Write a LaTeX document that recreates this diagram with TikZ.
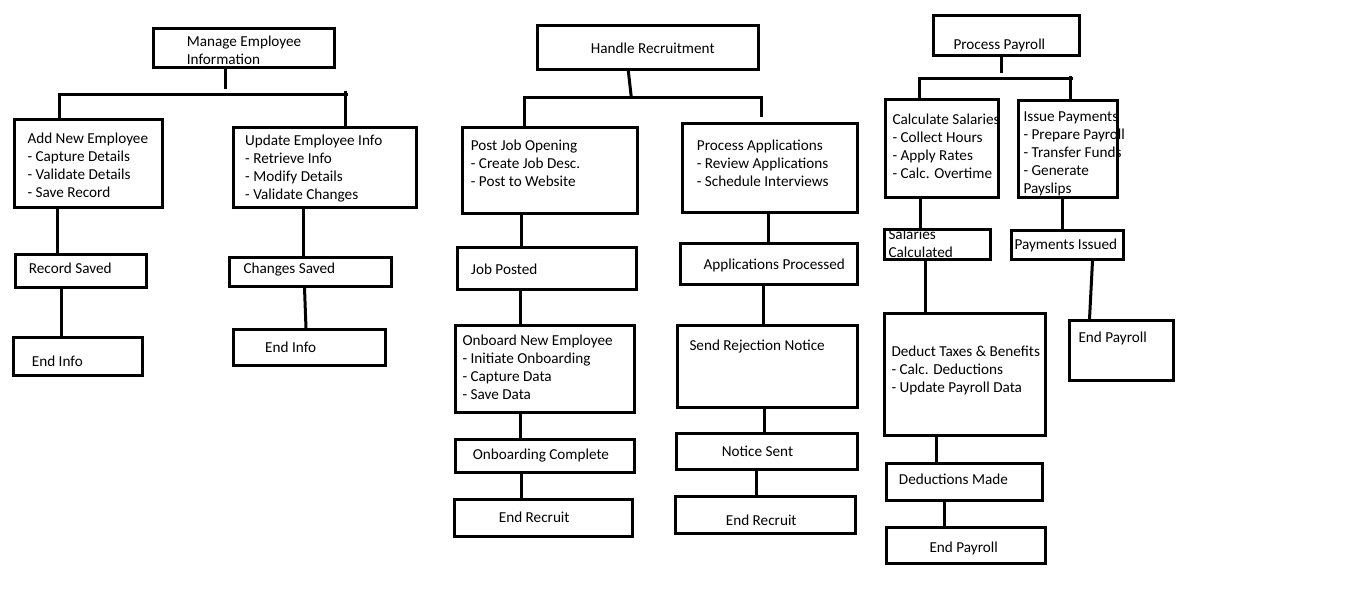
\documentclass[tikz,border=0pt]{standalone}
\usepackage{fontspec}
\setmainfont{Carlito}
\begin{document}
\begin{tikzpicture}[x=1pt,y=-1pt,
  box/.style={draw=black,line width=3pt,inner sep=0pt,fill=none},
  txt/.style={inner sep=0pt,align=left,text=black,
    font=\fontsize{15.2}{18}\selectfont},
  link/.style={draw=black,line width=3pt}]
\useasboundingbox (0,0) rectangle (1360,601);

% text first, so that box borders lie over any overflowing letters
\newcommand\ptext[4]{\node[txt,anchor=north west] (#1) at (#2,{#3-12}) {\rule{0pt}{12pt}#4};}
% box given by its outer corners
\newcommand\pbox[5]{\node[box,anchor=north west,
  minimum width={(#4)-(#2)-3},minimum height={(#5)-(#3)-3}] (#1) at (#2,#3) {};}

% ---------- texts ----------
\ptext{t-manage}{186.7}{46.5}{Manage Employee\\Information}
\ptext{t-addnew}{27.3}{143.3}{Add New Employee\\- Capture Details\\- Validate Details\\- Save Record}
\ptext{t-update}{245}{145.5}{Update Employee Info\\- Retrieve Info\\- Modify Details\\- Validate Changes}
\ptext{t-recsaved}{28.7}{273.3}{Record Saved}
\ptext{t-endinfoA}{31.7}{366.5}{End Info}
\ptext{t-chsaved}{243.3}{273.3}{Changes Saved}
\ptext{t-endinfoB}{265}{352.5}{End Info}

\ptext{t-handle}{590.7}{53.3}{Handle Recruitment}
\ptext{t-postjob}{470.7}{150.5}{Post Job Opening\\- Create Job Desc.\\- Post to Website}
\ptext{t-procapp}{696.7}{150.5}{Process Applications\\- Review Applications\\- Schedule Interviews}
\ptext{t-jobposted}{471}{274.7}{Job Posted}
\ptext{t-onboard}{462.3}{345.5}{Onboard New Employee\\- Initiate Onboarding\\- Capture Data\\- Save Data}
\ptext{t-onbdone}{472.7}{459}{Onboarding Complete}
\ptext{t-endrecA}{498.7}{522.7}{End Recruit}
\ptext{t-appsproc}{703.3}{269}{Applications Processed}
\ptext{t-sendrej}{689.3}{350}{Send Rejection Notice}
\ptext{t-noticesent}{721.7}{456.7}{Notice Sent}
\ptext{t-endrecB}{725.7}{525}{End Recruit}

\ptext{t-payroll}{953.3}{49}{Process Payroll}
\ptext{t-calcsal}{892.3}{124}{Calculate Salaries\\- Collect Hours\\- Apply Rates\\- Calc. Overtime}
\ptext{t-issuepay}{1023.3}{121.7}{Issue Payments\\- Prepare Payroll\\- Transfer Funds\\- Generate\\Payslips}
\ptext{t-salcalc}{888.3}{239.3}{Salaries\\Calculated}
\ptext{t-payissued}{1014.3}{249}{Payments Issued}
\ptext{t-deduct}{891.3}{356.7}{Deduct Taxes \& Benefits\\- Calc. Deductions\\- Update Payroll Data}
\ptext{t-dedmade}{898.7}{484.7}{Deductions Made}
\ptext{t-endpayA}{929.3}{552.7}{End Payroll}
\ptext{t-endpayB}{1078.3}{342.7}{End Payroll}

% ---------- boxes ----------
\pbox{manage}{151.7}{26.7}{336}{69.3}
\pbox{addnew}{13.3}{118.3}{164.3}{209.3}
\pbox{update}{231.7}{125.7}{418.3}{209.3}
\pbox{recsaved}{14.3}{253.3}{148.3}{288.7}
\pbox{endinfoA}{12.3}{336}{143.7}{377.3}
\pbox{chsaved}{228.3}{255.7}{392.7}{287.7}
\pbox{endinfoB}{232.3}{328.3}{386.7}{367.3}

\pbox{handle}{535.7}{24.3}{760}{70.7}
\pbox{postjob}{460.7}{125.7}{639}{215}
\pbox{procapp}{681}{122.3}{859.3}{214}
\pbox{jobposted}{456}{246}{637.7}{290.7}
\pbox{onboard}{454.3}{323.7}{635.7}{414.3}
\pbox{onbdone}{454.3}{437.7}{635.7}{474.3}
\pbox{endrecA}{453.3}{498.3}{633.7}{538.3}
\pbox{appsproc}{679.3}{241.7}{858.7}{285.7}
\pbox{sendrej}{676}{324.3}{859.3}{408.7}
\pbox{noticesent}{675}{431.7}{858.7}{470.7}
\pbox{endrecB}{674.3}{495}{856.7}{535.3}

\pbox{payroll}{931.7}{14.3}{1080.7}{57.3}
\pbox{calcsal}{884.3}{97.7}{1000}{198.7}
\pbox{issuepay}{1017}{99}{1119}{199.3}
\pbox{salcalc}{882.7}{228.3}{992.3}{261}
\pbox{payissued}{1010}{229.3}{1125}{261}
\pbox{deduct}{883.3}{311.7}{1046.7}{437.3}
\pbox{dedmade}{885}{462.3}{1044.3}{502}
\pbox{endpayA}{885}{525.7}{1046.7}{565}
\pbox{endpayB}{1068.3}{319.3}{1175}{381.7}

% ---------- employee information tree ----------
\coordinate (mA) at (225.5,89.5);
\draw[link] (manage.south -| 225.5,0) -- (mA);
\draw[link] (addnew.north -| 59.7,0) -- (59.7,94.3) -- (204,94.3);
\draw[link] (204,95) -- (348.3,95);
\draw[link] (345.3,90.7) -- (update.north -| 345.3,0);
\draw[link] (addnew.south -| 57,0) -- (recsaved.north -| 57,0);
\draw[link] (recsaved.south -| 61.5,0) -- (endinfoA.north -| 61.5,0);
\draw[link] (update.south -| 303.5,0) -- (chsaved.north -| 303.5,0);
\draw[link] (chsaved.south -| 304.5,0) -- (endinfoB.north -| 306,0);

% ---------- recruitment tree ----------
\coordinate (hJ) at (631.3,97.5);
\coordinate (hR) at (761.3,117);
\draw[link] (handle.south -| 628.3,0) -- (hJ);
\draw[link] (postjob.north -| 524.3,0) -- (524.3,98) -- (642.3,98);
\draw[link] (642.3,97.3) -- (762.7,97.3);
\draw[link] (761.3,97.3) -- (hR);
\draw[link] (postjob.south -| 521.7,0) -- (jobposted.north -| 521.7,0);
\draw[link] (jobposted.south -| 520,0) -- (onboard.north -| 520,0);
\draw[link] (onboard.south -| 520.5,0) -- (onbdone.north -| 520.5,0);
\draw[link] (onbdone.south -| 521.5,0) -- (endrecA.north -| 521.5,0);
\draw[link] (procapp.south -| 768,0) -- (appsproc.north -| 768,0);
\draw[link] (appsproc.south -| 763,0) -- (sendrej.north -| 763,0);
\draw[link] (sendrej.south -| 764.3,0) -- (noticesent.north -| 764.3,0);
\draw[link] (noticesent.south -| 756.5,0) -- (endrecB.north -| 756.5,0);

% ---------- payroll tree ----------
\coordinate (pA) at (1001.7,73.3);
\draw[link] (payroll.south -| 1001.7,0) -- (pA);
\draw[link] (calcsal.north -| 919.7,0) -- (919.7,78.7) -- (1072.7,78.7);
\draw[link] (1070,76) -- (issuepay.north -| 1070,0);
\draw[link] (calcsal.south -| 920.7,0) -- (salcalc.north -| 920.7,0);
\draw[link] (issuepay.south -| 1062.3,0) -- (payissued.north -| 1062.3,0);
\draw[link] (salcalc.south -| 925,0) -- (deduct.north -| 925,0);
\draw[link] (payissued.south -| 1092.5,0) -- (endpayB.north -| 1089.5,0);
\draw[link] (deduct.south -| 936.5,0) -- (dedmade.north -| 936.5,0);
\draw[link] (dedmade.south -| 944.3,0) -- (endpayA.north -| 944.3,0);
\end{tikzpicture}
\end{document}
